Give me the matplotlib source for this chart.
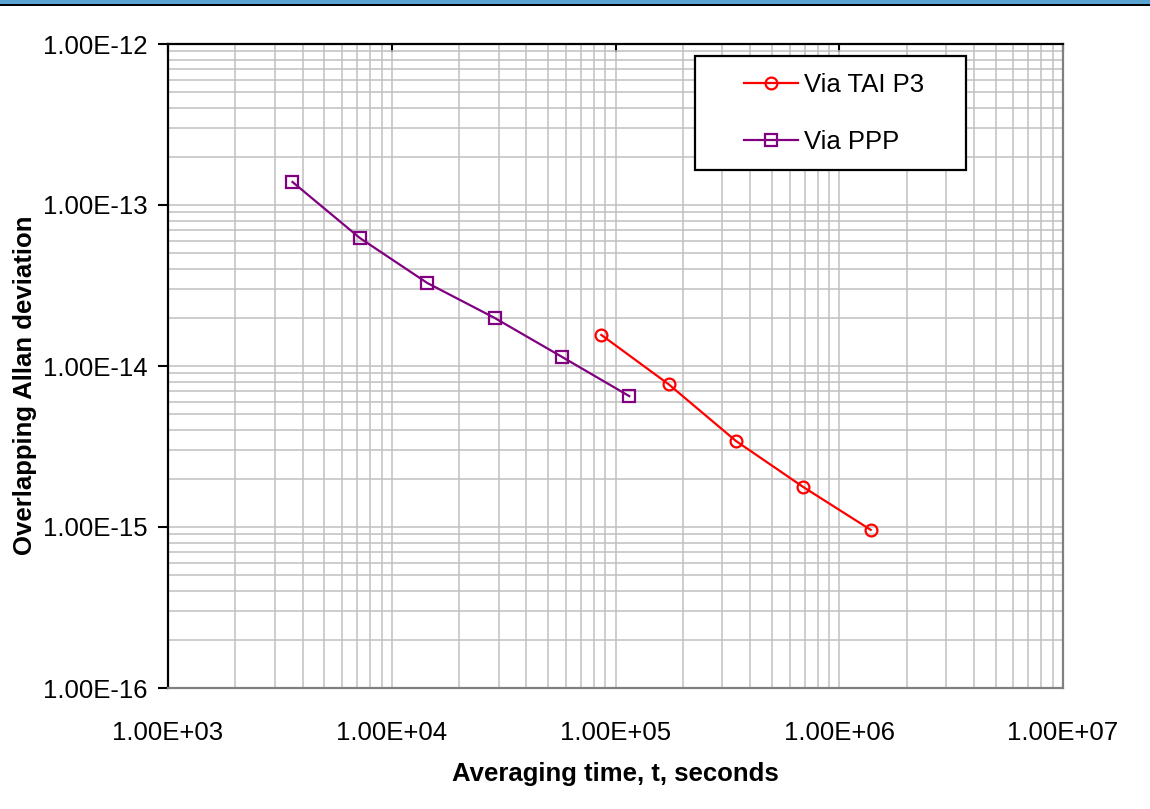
import numpy as np
import matplotlib
matplotlib.use("Agg")
import matplotlib.pyplot as plt
from matplotlib.patches import Rectangle
from matplotlib.ticker import FuncFormatter, FixedLocator, NullFormatter

# Overlapping Allan deviation: TAI P3 link vs PPP link

tau_tai = [86400, 172800, 345600, 691200, 1382400]  # s
adev_tai = [1.56e-14, 7.7e-15, 3.42e-15, 1.77e-15, 9.6e-16]

tau_ppp = [3600, 7200, 14400, 28800, 57600, 115200]  # s
adev_ppp = [1.39e-13, 6.24e-14, 3.28e-14, 1.99e-14, 1.14e-14, 6.5e-15]

series_names = ["Via TAI P3", "Via PPP"]
x_label = "Averaging time, t, seconds"
y_label = "Overlapping Allan deviation"
x_ticks = [1e3, 1e4, 1e5, 1e6, 1e7]
y_ticks = [1e-16, 1e-15, 1e-14, 1e-13, 1e-12]

plt.rcParams["font.family"] = ["Liberation Sans", "DejaVu Sans"]
FS = 18.5

W, H = 1150, 809
fig = plt.figure(figsize=(W / 100, H / 100), dpi=100)

# blue page band at the top
fig.patches.append(Rectangle((0, 1 - 4 / H), 1, 4 / H, transform=fig.transFigure,
                             facecolor="#5BA4D2", edgecolor="none"))
fig.patches.append(Rectangle((0, 1 - 5.5 / H), 1, 1.5 / H, transform=fig.transFigure,
                             facecolor="black", edgecolor="none"))

left, right, top, bottom = 168, 1063, 44, 688
ax = fig.add_axes([left / W, 1 - bottom / H, (right - left) / W, (bottom - top) / H])

ax.plot(tau_tai, adev_tai, color="#FF0000", lw=1.6, marker="o", ms=8.5,
        mfc="none", mec="#FF0000", mew=1.6, label=series_names[0])
ax.plot(tau_ppp, adev_ppp, color="#800080", lw=1.6, marker="s", ms=8.5,
        mfc="none", mec="#800080", mew=1.6, label=series_names[1])

ax.set_xscale("log")
ax.set_yscale("log")
ax.set_xlim(x_ticks[0], x_ticks[-1])
ax.set_ylim(y_ticks[0], y_ticks[-1])

subs = np.arange(2, 10)
ax.xaxis.set_major_locator(FixedLocator(x_ticks))
ax.yaxis.set_major_locator(FixedLocator(y_ticks))
ax.xaxis.set_minor_locator(FixedLocator([d * s for d in x_ticks[:-1] for s in subs]))
ax.yaxis.set_minor_locator(FixedLocator([d * s for d in y_ticks[:-1] for s in subs]))
fmt = FuncFormatter(lambda v, pos: f"{v:.2E}")
ax.xaxis.set_major_formatter(fmt)
ax.yaxis.set_major_formatter(fmt)
ax.xaxis.set_minor_formatter(NullFormatter())
ax.yaxis.set_minor_formatter(NullFormatter())

ax.grid(True, which="both", color="#C0C0C0", lw=1.1)
ax.set_axisbelow(True)

ax.tick_params(axis="both", which="minor", length=0)
ax.tick_params(axis="x", which="major", bottom=False, top=True, direction="in",
               length=6, width=1.5, labelsize=FS, pad=24)
ax.tick_params(axis="y", which="major", left=True, direction="out",
               length=7, width=1.5, labelsize=FS, pad=8)

for side in ["left", "top"]:
    ax.spines[side].set_color("black")
    ax.spines[side].set_linewidth(1.6)
for side in ["right", "bottom"]:
    ax.spines[side].set_color("#808080")
    ax.spines[side].set_linewidth(1.6)

ax.set_xlabel(x_label, fontsize=FS, fontweight="bold", va="center")
ax.xaxis.set_label_coords(0.5, -(774 - bottom) / (bottom - top))
ax.set_ylabel(y_label, fontsize=FS, fontweight="bold", va="center")
ax.yaxis.set_label_coords(-(left - 25) / (right - left), (bottom - 385) / (bottom - top))

# legend box drawn by hand so the padding matches
lx0, lx1, ly0, ly1 = 695, 966, 56, 170
ax.add_patch(Rectangle(((lx0 - left) / (right - left), (bottom - ly1) / (bottom - top)),
                       (lx1 - lx0) / (right - left), (ly1 - ly0) / (bottom - top),
                       transform=ax.transAxes, facecolor="white", edgecolor="black",
                       lw=1.6, zorder=4, clip_on=False))
leg = ax.legend(loc="center left", bbox_to_anchor=(744 / W, 1 - 113.5 / H),
                bbox_transform=fig.transFigure, frameon=False, fontsize=FS,
                borderpad=0, borderaxespad=0, handlelength=2.1, handletextpad=0.25,
                labelspacing=1.3)
leg.set_zorder(5)

fig.savefig("out.png", dpi=100)
